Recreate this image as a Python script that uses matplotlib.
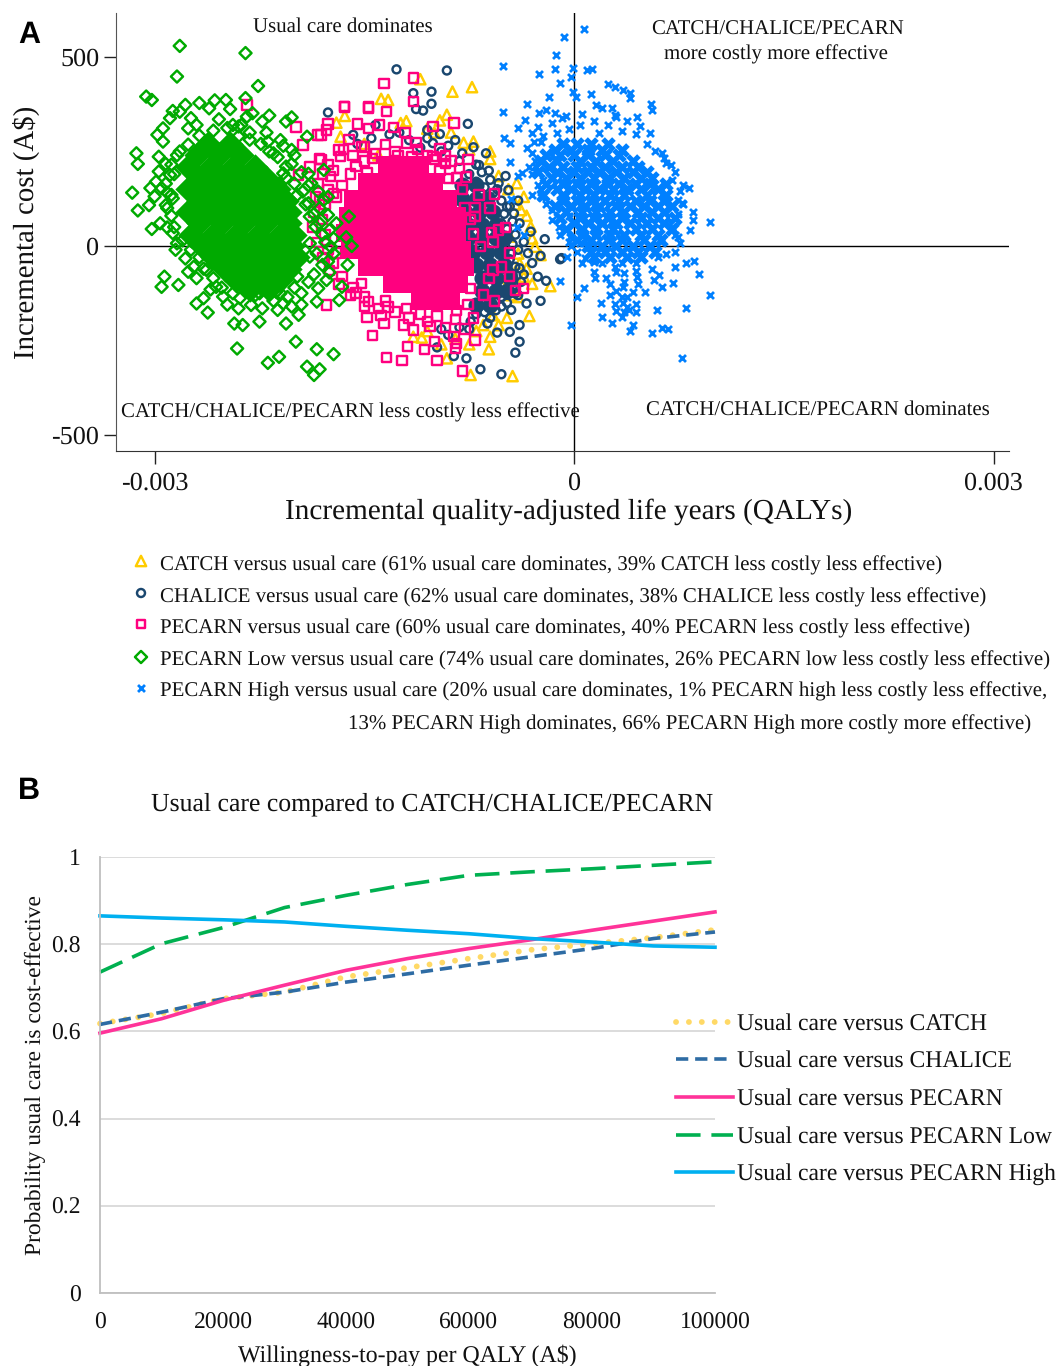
import numpy as np
import matplotlib
matplotlib.use('Agg')
import matplotlib.pyplot as plt

plt.rcParams['font.family'] = ['Liberation Serif', 'DejaVu Serif']
plt.rcParams['text.hinting'] = 'no_hinting'

# panel A values: x in 1e-5 QALY, y in A$
catch_x = [-110,-87,-73,-138,-133,-164,-170,-91,-96,-124,-167,-79,-72,-54,-41,-38,-31,-46,-28,-24,-39,-36,-17,-32,-58,-54,-65,-61,-91,-109,-74,-44,-60,-100,-150,-140,-45,-52,-70,
           -47,-36,-42,-34,-30,-40,-34,-30,-40,-48,-60,-75,-95,-105,-85,-115,-120,-105,-88,-75,-60]
catch_y = [441,408,420,389,386,344,326,347,332,325,289,273,276,185,166,95,51,25,-2,-24,-46,-81,-106,-185,-183,-209,-209,-273,-297,-242,-341,-344,230,300,270,240,-130,-100,-225,
           150,130,110,80,20,-20,-60,-100,-135,-190,-240,-260,-260,-225,-245,-240,330,310,300,255,250]

chalice_x = [-127,-91,-115,-102,-102,-113,-108,-176,-76,-142,-158,-96,-105,-85,-101,-72,-80,-63,-61,-68,-49,-54,-47,-40,-48,-43,-39,-31,-36,-21,-33,-24,-10,-39,-26,-20,-24,-34,-45,-55,-39,-46,-39,-42,-77,-86,-98,-67,-52,-9,-60,-52,-50,-45,-50,-55,-60,-40,-70,-60,-75,-44,-36,-30,-52,
             -75,-70,-64,-58,-52,-46,-50,-44,-48,-42,-44,-40,-46,-42,-44,-38,-42,-52,-48,-56,-64,-62,-74,-82,-90,-95,-66,-60,-55,-70,-82,-90,-110,-118,-125,-132,-145,-155,-105,-95]
chalice_y = [467,464,404,408,376,362,358,353,323,320,294,296,307,280,272,261,245,245,199,214,185,166,148,120,104,86,60,38,11,18,-19,-26,-35,-59,-81,-92,-145,-152,-169,-229,-209,-227,-253,-282,-297,-291,-268,-326,-339,-32,130,60,20,-20,-60,-110,-140,-130,-180,-190,-220,-110,-75,-45,-160,
             190,170,155,140,120,105,85,65,45,30,5,-10,-35,-55,-75,-95,-125,-135,-150,-170,-175,-205,-200,-215,-235,-220,195,175,150,215,225,265,260,280,300,295,285,270,285,250]

pecarn_x = [-115,-136,-115,-164,-147,-134,-176,-181,-155,-86,-101,-147,-139,-129,-121,-161,-152,-113,-168,-92,-76,-101,-77,-90,-68,-57,-60,-71,-71,-49,-59,-72,-54,-46,-58,-67,-58,-52,-46,-61,-42,-36,-57,-65,-74,-71,-84,-86,-100,-85,-119,-107,-134,-123,-98,-80,-144,-148,-138,-136,-156,-147,-177,-122,-115,-103,-133,-152,-170,-174,-172,-181,-167,-199,-234,-183,-194,-164,-147,-182,-189,-177,-197,-182,
            -165,-158,-150,-142,-135,-128,-120,-112,-105,-96,-88,-82,-176,-180,-172,-183,-176,-185,-178,-186,-180,-187,-178,-184,-176,-180,-172,-175,-166,-168,-158,-160,-150,-150,-140,-135,-128,-120,-118,-110,-105,-98,-92,-85,-78,-72,-74,-80,-78,-84,-96,-166,-170,-148,-160,-150,-156,-144,-126,-116,-100,-92,-84,-76]
pecarn_y = [444,429,382,369,367,355,323,294,323,325,316,311,320,314,300,282,263,273,254,238,228,236,182,179,135,138,100,78,102,49,35,32,42,-19,11,-2,-63,-56,-81,-86,-117,-113,-145,-130,-112,-249,-258,-240,-253,-271,-266,-273,-295,-302,-303,-330,-236,-189,-183,-205,-124,-147,-156,-209,-222,-213,-161,-99,-19,183,139,228,236,315,373,294,267,368,365,230,209,307,188,122,
            255,240,262,245,268,250,272,255,240,258,225,205,215,190,200,165,150,130,110,90,70,50,30,10,-10,-30,-45,-65,-80,-100,-110,-130,-135,-160,-165,-145,-175,-165,-190,-180,-200,-185,-215,-195,-220,-190,70,150,100,180,200,160,130,195,190,225,210,232,238,235,228,218,-170,-155]

low_x = [-282,-235,-284,-226,-306,-302,-235,-278,-268,-257,-249,-261,-246,-287,-289,-282,-274,-234,-230,-218,-223,-202,-206,-294,-298,-294,-276,-244,-240,-232,-219,-191,-208,-202,-215,-313,-312,-297,-292,-297,-289,-202,-179,-208,-190,-188,-299,-303,-295,-316,-300,-291,-304,-312,-292,-287,-194,-183,-179,-190,-189,-176,-161,-302,-291,-287,-185,-175,-163,-159,-174,-284,-278,-272,-276,-189,-176,-162,-293,-295,-283,-265,-270,-262,-251,-243,-237,-231,-223,-225,-212,-208,-202,-197,-206,-195,-184,-168,-183,-177,-166,-241,-199,-184,-172,-211,-219,-191,-182,-186,-256,-263,-213,-225,-239,-198,-189,
         -282,-276,-268,-258,-248,-240,-232,-224,-218,-212,-206,-206,-200,-198,-192,-186,-182,-180,-178,-184,-180,-186,-190,-200,-210,-218,-228,-244,-252,-258,-265,-268,-274,-280,-286,-288,-291,-288,-292,-286,-288,-284,-296,-270,-254,-238,-220,-210,-200,-195,-190,-270,-285,-260,-240,-215,-195,-205,-248,-175,-172,-172,-170,-182,-176]
low_y = [529,510,448,423,395,386,391,373,378,385,386,364,362,357,338,355,338,342,351,345,329,340,329,311,294,276,311,320,316,281,276,289,265,254,245,245,217,236,217,197,188,217,201,192,191,166,170,153,153,141,131,141,108,94,108,126,144,144,122,113,78,82,78,45,49,34,51,42,23,0,-2,7,-33,-55,-68,-28,-41,-50,-81,-108,-103,-138,-152,-176,-134,-205,-209,-156,-165,-200,-169,-152,-160,-182,-205,-125,-147,-143,-112,-90,-108,-271,-253,-273,-286,-293,-309,-319,-326,-341,-108,-63,-121,-125,-138,-81,7,
         250,268,292,305,312,290,300,270,250,235,210,180,165,135,110,85,60,30,10,-20,-50,-75,-95,-110,-125,-115,-130,-125,-110,-85,-60,-30,-10,15,50,80,100,135,165,190,215,240,60,320,335,320,300,280,240,195,160,-85,-10,-115,-165,-145,-155,-135,-155,-70,-20,20,60,100,130]

high_x = [7,-7,-13,-51,-25,-14,-1,-2,-10,9,13,24,29,35,40,40,55,56,-51,-34,-1,-18,1,12,16,20,27,29,-25,-35,-40,-50,-46,-46,45,47,54,-20,-14,-9,63,69,78,82,64,85,85,97,83,77,74,74,76,86,80,89,72,97,71,63,80,59,67,63,56,77,42,40,27,20,29,19,44,2,7,-2,-10,26,42,51,35,15,23,57,61,45,14,8,29,36,35,36,34,39,-2,-5,-36,-41,-45,-30,-37,-40,-34,-29,-24,-30,-27,-22,-24,-16,-11,-4,-3,4,
          -12,-4,4,14,24,34,44,52,58,-22,-30,-26,-6,6,-16,18,30,38,66,72,70,76,78,74,70,72,-28,-32,-30,-26,-24,-20,-16,-10,-4,2,6,20,34,44,60,14,30,44,56,26,36,46,38,30,34,38,30,44,66,72,62]
high_y = [574,552,505,475,454,468,470,448,430,466,468,429,420,413,404,391,376,360,355,375,406,393,393,402,373,364,364,347,351,332,311,285,272,221,340,316,298,360,351,338,245,214,161,153,232,91,69,63,42,113,122,25,7,-39,-46,-74,-55,-130,-99,-108,-165,-169,-220,-218,-231,-297,-209,-226,-203,-189,-153,-150,-153,-136,-110,-209,-92,-130,-121,-121,-108,-85,-85,-90,-77,-81,-41,-33,-55,-72,-152,-174,-187,-169,-1,-28,29,51,124,135,192,184,258,276,276,245,210,175,148,95,51,78,25,7,
          300,310,320,330,320,305,295,270,250,290,300,315,345,350,325,300,340,330,220,195,175,145,110,85,50,30,225,210,190,160,130,110,70,30,10,-15,-45,-45,-45,-45,-30,-70,-70,-65,-60,-100,-95,-100,-135,-120,-135,-160,-172,-175,-20,-15,10]

# dense middle of the clouds, where single markers can no longer be told apart
low_core = {270:[-262,-246], 240:[-270,-254,-238], 210:[-276,-260,-244,-228], 180:[-268,-252,-236,-220],
            150:[-276,-260,-244,-228,-212], 120:[-268,-252,-236,-220,-206], 90:[-276,-260,-244,-228,-212,-204],
            60:[-268,-252,-236,-220,-204], 30:[-274,-258,-242,-226,-210,-200], 0:[-266,-250,-234,-218,-202],
            -30:[-258,-242,-226,-210,-198], -60:[-250,-234,-218,-204], -90:[-242,-226,-210], -115:[-232,-218]}
pecarn_core = {215:[-134,-122,-110], 170:[-148,-136,-124,-112,-100], 125:[-158,-146,-134,-122,-110,-98,-90],
               80:[-162,-150,-138,-126,-114,-102,-90,-84], 35:[-164,-152,-140,-128,-116,-104,-92,-84],
               -10:[-160,-148,-136,-124,-112,-100,-88,-80], -55:[-148,-136,-124,-112,-100,-88,-78],
               -100:[-130,-118,-106,-94,-82], -145:[-110,-98,-88]}
chalice_core = {160:[-80,-70], 125:[-80,-70,-62], 90:[-78,-68,-58], 55:[-76,-66,-56], 20:[-76,-66,-56,-50],
                -15:[-72,-62,-52], -50:[-70,-60,-50], -85:[-66,-56,-46], -120:[-66,-56,-48], -155:[-70,-60]}
high_core = {270:[-8,2,12,24], 255:[-14,-2,10,20,34], 240:[-20,-10,0,10,22,32], 225:[-24,-12,4,16,28,42],
             210:[-18,-8,2,12,22,34,46], 195:[-26,-12,0,10,18,30,42,52], 180:[-16,-6,4,14,24,36,48,56],
             165:[-20,-8,2,12,24,32,44,54,66], 150:[-12,-2,8,18,28,38,48,60], 135:[-22,-8,4,14,26,36,52,66],
             120:[-8,2,12,22,32,44,54,64], 105:[-14,-2,8,18,30,40,50,60,70], 90:[-6,6,16,26,36,46,56,64],
             75:[-10,4,14,24,34,48,60,72], 60:[0,10,20,30,40,52,64], 45:[-6,6,16,28,44,56,70], 30:[6,16,26,36,48,60],
             15:[2,12,24,34,50,62], 0:[10,20,30,42,54], -15:[12,22,34,46,58], -30:[14,26,38,48]}

# panel B values
wtp = [0,10000,20000,30000,40000,50000,60000,70000,80000,90000,100000]
catch_p = [.618,.641,.675,.690,.725,.746,.767,.787,.801,.815,.833]
chalice_p = [.616,.644,.675,.690,.713,.732,.752,.771,.790,.813,.828]
pecarn_p = [.596,.629,.671,.706,.740,.767,.790,.810,.832,.853,.874]
low_p = [.736,.801,.838,.884,.912,.937,.958,.966,.973,.981,.989]
high_p = [.865,.860,.856,.851,.841,.832,.824,.813,.805,.796,.793]

legend_a = ['CATCH versus usual care (61% usual care dominates, 39% CATCH less costly less effective)',
            'CHALICE versus usual care (62% usual care dominates, 38% CHALICE less costly less effective)',
            'PECARN versus usual care (60% usual care dominates, 40% PECARN less costly less effective)',
            'PECARN Low versus usual care (74% usual care dominates, 26% PECARN low less costly less effective)',
            'PECARN High versus usual care (20% usual care dominates, 1% PECARN high less costly less effective,']
legend_b = ['Usual care versus CATCH','Usual care versus CHALICE','Usual care versus PECARN',
            'Usual care versus PECARN Low','Usual care versus PECARN High']

W, H = 1056, 1366
YELLOW, NAVY, PINK, GREEN, BLUE = '#FFCC00', '#1A476F', '#FF007F', '#00AA00', '#0080FF'

def rows(core):
    xs = [x for y in core for x in core[y]]
    ys = [y for y in core for x in core[y]]
    return np.array(xs)*1e-5, ys

def box(l, t, r, b):
    return [l/W, 1-b/H, (r-l)/W, (b-t)/H]

def txt(x, y, s, size=15, **kw):
    kw.setdefault('va', 'center')
    fig.text(x/W, 1-(y+2)/H, s, fontsize=size, color='#111111', **kw)

fig = plt.figure(figsize=(W/100, H/100), dpi=100)

# panel A
ax = fig.add_axes(box(116, 13, 1009, 451))
ax.axhline(0, color='black', lw=1, zorder=1)
ax.axvline(0, color='black', lw=1, zorder=1)
hollow = dict(facecolors='none', linewidths=1.75, clip_on=False)
ax.scatter(np.array(catch_x)*1e-5, catch_y, s=55, marker='^', edgecolors=YELLOW, zorder=2, **hollow)
x, y = rows(chalice_core)
ax.scatter(x, y, s=135, marker='o', color=NAVY, linewidths=0, zorder=3)
ax.scatter(np.array(chalice_x)*1e-5, chalice_y, s=33, marker='o', edgecolors=NAVY, zorder=3, **hollow)
x, y = rows(pecarn_core)
ax.scatter(x, y, s=187, marker='s', color=PINK, linewidths=0, zorder=4)
ax.scatter(np.array(pecarn_x)*1e-5, pecarn_y, s=46, marker='s', edgecolors=PINK, zorder=4, **hollow)
x, y = rows(low_core)
ax.scatter(x, y, s=180, marker='D', color=GREEN, linewidths=0, zorder=5)
ax.scatter(np.array(low_x)*1e-5, low_y, s=38, marker='D', edgecolors=GREEN, zorder=5, **hollow)
x, y = rows(high_core)
ax.scatter(x, y, s=110, marker='X', color=BLUE, linewidths=0, zorder=6)
ax.scatter(np.array(high_x)*1e-5, high_y, s=25, marker='x', color=BLUE, linewidths=2, zorder=6)
ax.set_xlim(-0.003276, 0.00311)
ax.set_ylim(-542, 616)
ax.set_xticks([-0.003, 0, 0.003], ['-0.003', '0', '0.003'], fontsize=18.8)
ax.set_yticks([-500, 0, 500], ['-500', '0', '500'], fontsize=18.8)
ax.tick_params(axis='x', length=9, width=1, color='#222222', labelcolor='#111111', pad=6)
ax.tick_params(axis='y', length=9, width=1, color='#222222', labelcolor='#111111', pad=3)
ax.spines[['top', 'right']].set_visible(False)
ax.spines['left'].set_color('#555555')
ax.spines['bottom'].set_color('#333333')

txt(343, 25, 'Usual care dominates', ha='center')
txt(778, 28, 'CATCH/CHALICE/PECARN', ha='center')
txt(776, 52, 'more costly more effective', ha='center')
txt(350, 410, 'CATCH/CHALICE/PECARN less costly less effective', ha='center')
txt(818, 408, 'CATCH/CHALICE/PECARN dominates', ha='center')
txt(26, 230, 'Incremental cost (A$)', size=20.8, rotation=90, ha='center')
txt(569, 510, 'Incremental quality-adjusted life years (QALYs)', size=21.1, ha='center')
fig.text(18/W, 1-35/H, 'A', fontsize=22, fontweight='bold', family='Liberation Sans', va='center')
fig.text(18/W, 1-791/H, 'B', fontsize=22, fontweight='bold', family='Liberation Sans', va='center')

# legend of panel A and keys of panel B are drawn on a full figure overlay in pixels
ov = fig.add_axes([0, 0, 1, 1], zorder=10)
ov.set_xlim(0, W)
ov.set_ylim(H, 0)
ov.axis('off')
key_style = [('^', YELLOW, 55), ('o', NAVY, 33), ('s', PINK, 40), ('D', GREEN, 38)]
for i, (m, c, s) in enumerate(key_style):
    ov.scatter(141, [561, 593, 624, 657][i], s=s, marker=m, facecolors='none', edgecolors=c, linewidths=1.75)
ov.scatter(141, 688, s=25, marker='x', color=BLUE, linewidths=2)
for t, yy in zip(legend_a, [563, 595, 626, 658, 689]):
    txt(160, yy, t)
txt(348, 722, '13% PECARN High dominates, 66% PECARN High more costly more effective)')

# panel B
bx = fig.add_axes(box(100, 857, 715, 1293))
bx.set_axisbelow(True)
bx.grid(axis='y', color='#D9D9D9', lw=1.3)
line_styles = [(catch_p, '#FFD966', (0, (0.01, 2.2)), 'round'), (chalice_p, '#2E6CA4', (0, (3.4, 1.9)), 'butt'),
               (pecarn_p, '#FF3399', '-', 'butt'), (low_p, '#00B050', (0, (6.8, 3)), 'butt'), (high_p, '#00B0F0', '-', 'butt')]
for p, c, ls, cap in line_styles:
    lw = 4.2 if cap == 'round' else 2.6
    bx.plot(wtp, p, color=c, ls=ls, lw=lw, dash_capstyle=cap, clip_on=False)
bx.set_xlim(0, 100000)
bx.set_ylim(0, 1)
bx.set_xticks(wtp[::2], [str(v) for v in wtp[::2]], fontsize=17)
bx.set_yticks([0, .2, .4, .6, .8, 1], ['0', '0.2', '0.4', '0.6', '0.8', '1'], fontsize=17)
bx.tick_params(axis='x', length=0, labelcolor='#111111', pad=14)
bx.tick_params(axis='y', length=0, labelcolor='#111111', pad=14)
bx.spines[['top', 'right']].set_visible(False)
bx.spines['left'].set_color('#BFBFBF')
bx.spines['bottom'].set_color('#BFBFBF')
bx.spines['left'].set_linewidth(1.3)
bx.spines['bottom'].set_linewidth(1.3)

for (p, c, ls, cap), t, yy in zip(line_styles, legend_b, [1022, 1059, 1097, 1135, 1172]):
    lw = 4.2 if cap == 'round' else 2.6
    ov.plot([676, 733], [yy, yy], color=c, ls=ls, lw=lw, dash_capstyle=cap)
    txt(737, yy, t, size=17)

txt(432, 802, 'Usual care compared to CATCH/CHALICE/PECARN', size=18.5, ha='center')
txt(35, 1073, 'Probability usual care is cost-effective', size=16.9, rotation=90, ha='center')
txt(407, 1354, 'Willingness-to-pay per QALY (A$)', size=17.2, ha='center')

fig.savefig('out.png', dpi=100)
